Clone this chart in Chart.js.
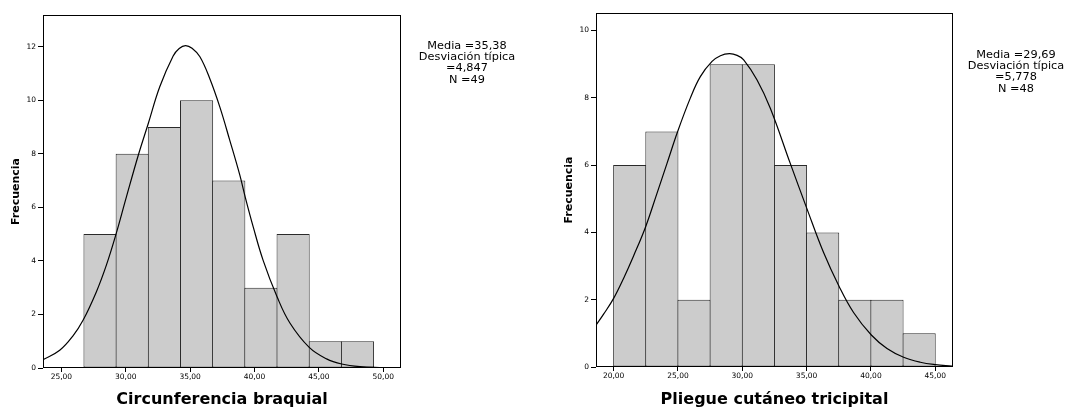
<!DOCTYPE html>
<html><head><meta charset="utf-8">
<script src="https://cdn.jsdelivr.net/npm/chart.js@4"></script>
<style>
html,body{margin:0;padding:0;background:#fff;width:1070px;height:412px;overflow:hidden;}
.wrap{position:absolute;top:0;width:535px;height:412px;}
.stats{position:absolute;font-family:'DejaVu Sans',sans-serif;font-size:11.3px;line-height:11.2px;text-align:center;color:#000;white-space:nowrap;transform:translateX(-50%);}
</style></head><body>
<div class="wrap" style="left:0"><canvas id="c1" width="535" height="412"></canvas></div>
<div class="wrap" style="left:535px"><canvas id="c2" width="535" height="412"></canvas></div>
<div class="stats" id="s1" style="left:467px;top:40px"></div>
<div class="stats" id="s2" style="left:1016px;top:49px"></div>
<script>
// ---- Chart 1: Circunferencia braquial ----
const braqTitle = 'Circunferencia braquial';
const braqBinCenters = [28, 30.5, 33, 35.5, 38, 40.5, 43, 45.5, 48];
const braqCounts = [5, 8, 9, 10, 7, 3, 5, 1, 1];
const braqCurveX = [23.57, 24.87, 25.9, 26.68, 27.72, 28.5, 29.22, 30.05, 31.0, 31.73, 32.64, 33.68, 34.15, 34.64, 35.15, 35.76, 36.53, 37.31, 38.08, 38.86, 39.27, 39.9, 40.67, 41.76, 42.75, 44.25, 45.6, 46.77, 48.2, 50.0];
const braqCurveY = [0.31, 0.66, 1.2, 1.78, 2.85, 3.85, 4.96, 6.39, 7.99, 9.1, 10.5, 11.65, 11.93, 12.04, 11.94, 11.62, 10.8, 9.74, 8.5, 7.2, 6.4, 5.27, 4.02, 2.65, 1.68, 0.77, 0.34, 0.15, 0.05, 0.01];
const braqTicksX = [25, 30, 35, 40, 45, 50];
const braqTickLabelsX = ['25,00', '30,00', '35,00', '40,00', '45,00', '50,00'];
const braqTicksY = [0, 2, 4, 6, 8, 10, 12];
const braqStats = ['Media =35,38', 'Desviación típica', '=4,847', 'N =49'];

// ---- Chart 2: Pliegue cutáneo tricipital ----
const plieTitle = 'Pliegue cutáneo tricipital';
const plieBinCenters = [21.25, 23.75, 26.25, 28.75, 31.25, 33.75, 36.25, 38.75, 41.25, 43.75];
const plieCounts = [6, 7, 2, 9, 9, 6, 4, 2, 2, 1];
const plieCurveX = [18.63, 19.22, 20.0, 20.78, 21.55, 22.49, 23.37, 24.15, 24.97, 25.96, 26.74, 27.65, 28.3, 29.0, 29.6, 30.11, 31.15, 32.18, 33.73, 35.03, 36.32, 37.52, 38.65, 40.03, 41.25, 42.54, 43.84, 45.0, 46.3];
const plieCurveY = [1.24, 1.57, 2.04, 2.64, 3.3, 4.17, 5.16, 6.05, 6.99, 7.99, 8.63, 9.08, 9.25, 9.31, 9.26, 9.13, 8.53, 7.69, 6.05, 4.7, 3.4, 2.4, 1.62, 0.95, 0.55, 0.29, 0.14, 0.07, 0.03];
const plieTicksX = [20, 25, 30, 35, 40, 45];
const plieTickLabelsX = ['20,00', '25,00', '30,00', '35,00', '40,00', '45,00'];
const plieTicksY = [0, 2, 4, 6, 8, 10];
const plieStats = ['Media =29,69', 'Desviación típica', '=5,778', 'N =48'];

const FONT = 'DejaVu Sans';

const framePlugin = {
  id: 'frame',
  afterDatasetsDraw(chart) {
    const {ctx, chartArea: a} = chart;
    ctx.save();
    ctx.strokeStyle = '#000';
    ctx.lineWidth = 1;
    ctx.strokeRect(Math.round(a.left) + 0.5, Math.round(a.top) + 0.5,
                   Math.round(a.right - a.left) - 1, Math.round(a.bottom - a.top) - 1);
    ctx.restore();
  }
};

function makeChart(id, cfg) {
  const barData = cfg.centers.map((c, i) => ({x: c, y: cfg.counts[i]}));
  const curveData = cfg.curveX.map((x, i) => ({x: x, y: cfg.curveY[i]}));
  return new Chart(document.getElementById(id), {
    type: 'bar',
    data: {
      datasets: [
        {
          type: 'line',
          data: curveData,
          borderColor: '#000',
          borderWidth: 1.2,
          pointRadius: 0,
          fill: false,
          tension: 0.4,
          order: 0
        },
        {
          type: 'bar',
          data: barData,
          backgroundColor: '#cccccc',
          borderColor: '#2a2a2a',
          borderWidth: 1,
          borderSkipped: false,
          barPercentage: 1.03,
          categoryPercentage: 1,
          grouped: false,
          order: 1
        }
      ]
    },
    options: {
      responsive: false,
      animation: false,
      events: [],
      layout: {padding: cfg.padding},
      plugins: {legend: {display: false}, tooltip: {enabled: false}},
      scales: {
        x: {
          type: 'linear',
          offset: false,
          min: cfg.xMin,
          max: cfg.xMax,
          afterBuildTicks: s => { s.ticks = cfg.ticksX.map(v => ({value: v})); },
          afterFit: s => { s.height = cfg.xAxisH; },
          ticks: {
            autoSkip: false, maxRotation: 0, padding: 1, color: '#000',
            font: {family: FONT, size: 7.5},
            callback: (v, i) => cfg.tickLabelsX[i]
          },
          grid: {drawOnChartArea: false, drawTicks: true, tickLength: 4, tickColor: '#000', offset: false},
          border: {display: false},
          title: {
            display: true, text: cfg.title, color: '#000',
            font: {family: FONT, size: 16, weight: 'bold'},
            padding: {top: 0, bottom: 3}
          }
        },
        y: {
          type: 'linear',
          min: 0,
          max: cfg.yMax,
          afterBuildTicks: s => { s.ticks = cfg.ticksY.map(v => ({value: v})); },
          afterFit: s => { s.width = 43; },
          ticks: {
            autoSkip: false, padding: 2, color: '#000',
            font: {family: FONT, size: 7.5},
            callback: v => String(v)
          },
          grid: {drawOnChartArea: false, drawTicks: true, tickLength: 5, tickColor: '#000'},
          border: {display: false},
          title: {
            display: true, text: 'Frecuencia', color: '#000',
            font: {family: FONT, size: 11, weight: 'bold'},
            padding: {top: 10, bottom: 0}
          }
        }
      }
    },
    plugins: [framePlugin]
  });
}

makeChart('c1', {
  title: braqTitle, centers: braqBinCenters, counts: braqCounts,
  curveX: braqCurveX, curveY: braqCurveY,
  ticksX: braqTicksX, tickLabelsX: braqTickLabelsX, ticksY: braqTicksY,
  xMin: 23.57, xMax: 51.38, yMax: 13.18, xAxisH: 44,
  padding: {left: 0, right: 134, top: 15, bottom: 0}
});
makeChart('c2', {
  title: plieTitle, centers: plieBinCenters, counts: plieCounts,
  curveX: plieCurveX, curveY: plieCurveY,
  ticksX: plieTicksX, tickLabelsX: plieTickLabelsX, ticksY: plieTicksY,
  xMin: 18.63, xMax: 46.38, yMax: 10.52, xAxisH: 45,
  padding: {left: 18, right: 117, top: 13, bottom: 0}
});

document.getElementById('s1').innerHTML = braqStats.join('<br>');
document.getElementById('s2').innerHTML = plieStats.join('<br>');
</script>
</body></html>
